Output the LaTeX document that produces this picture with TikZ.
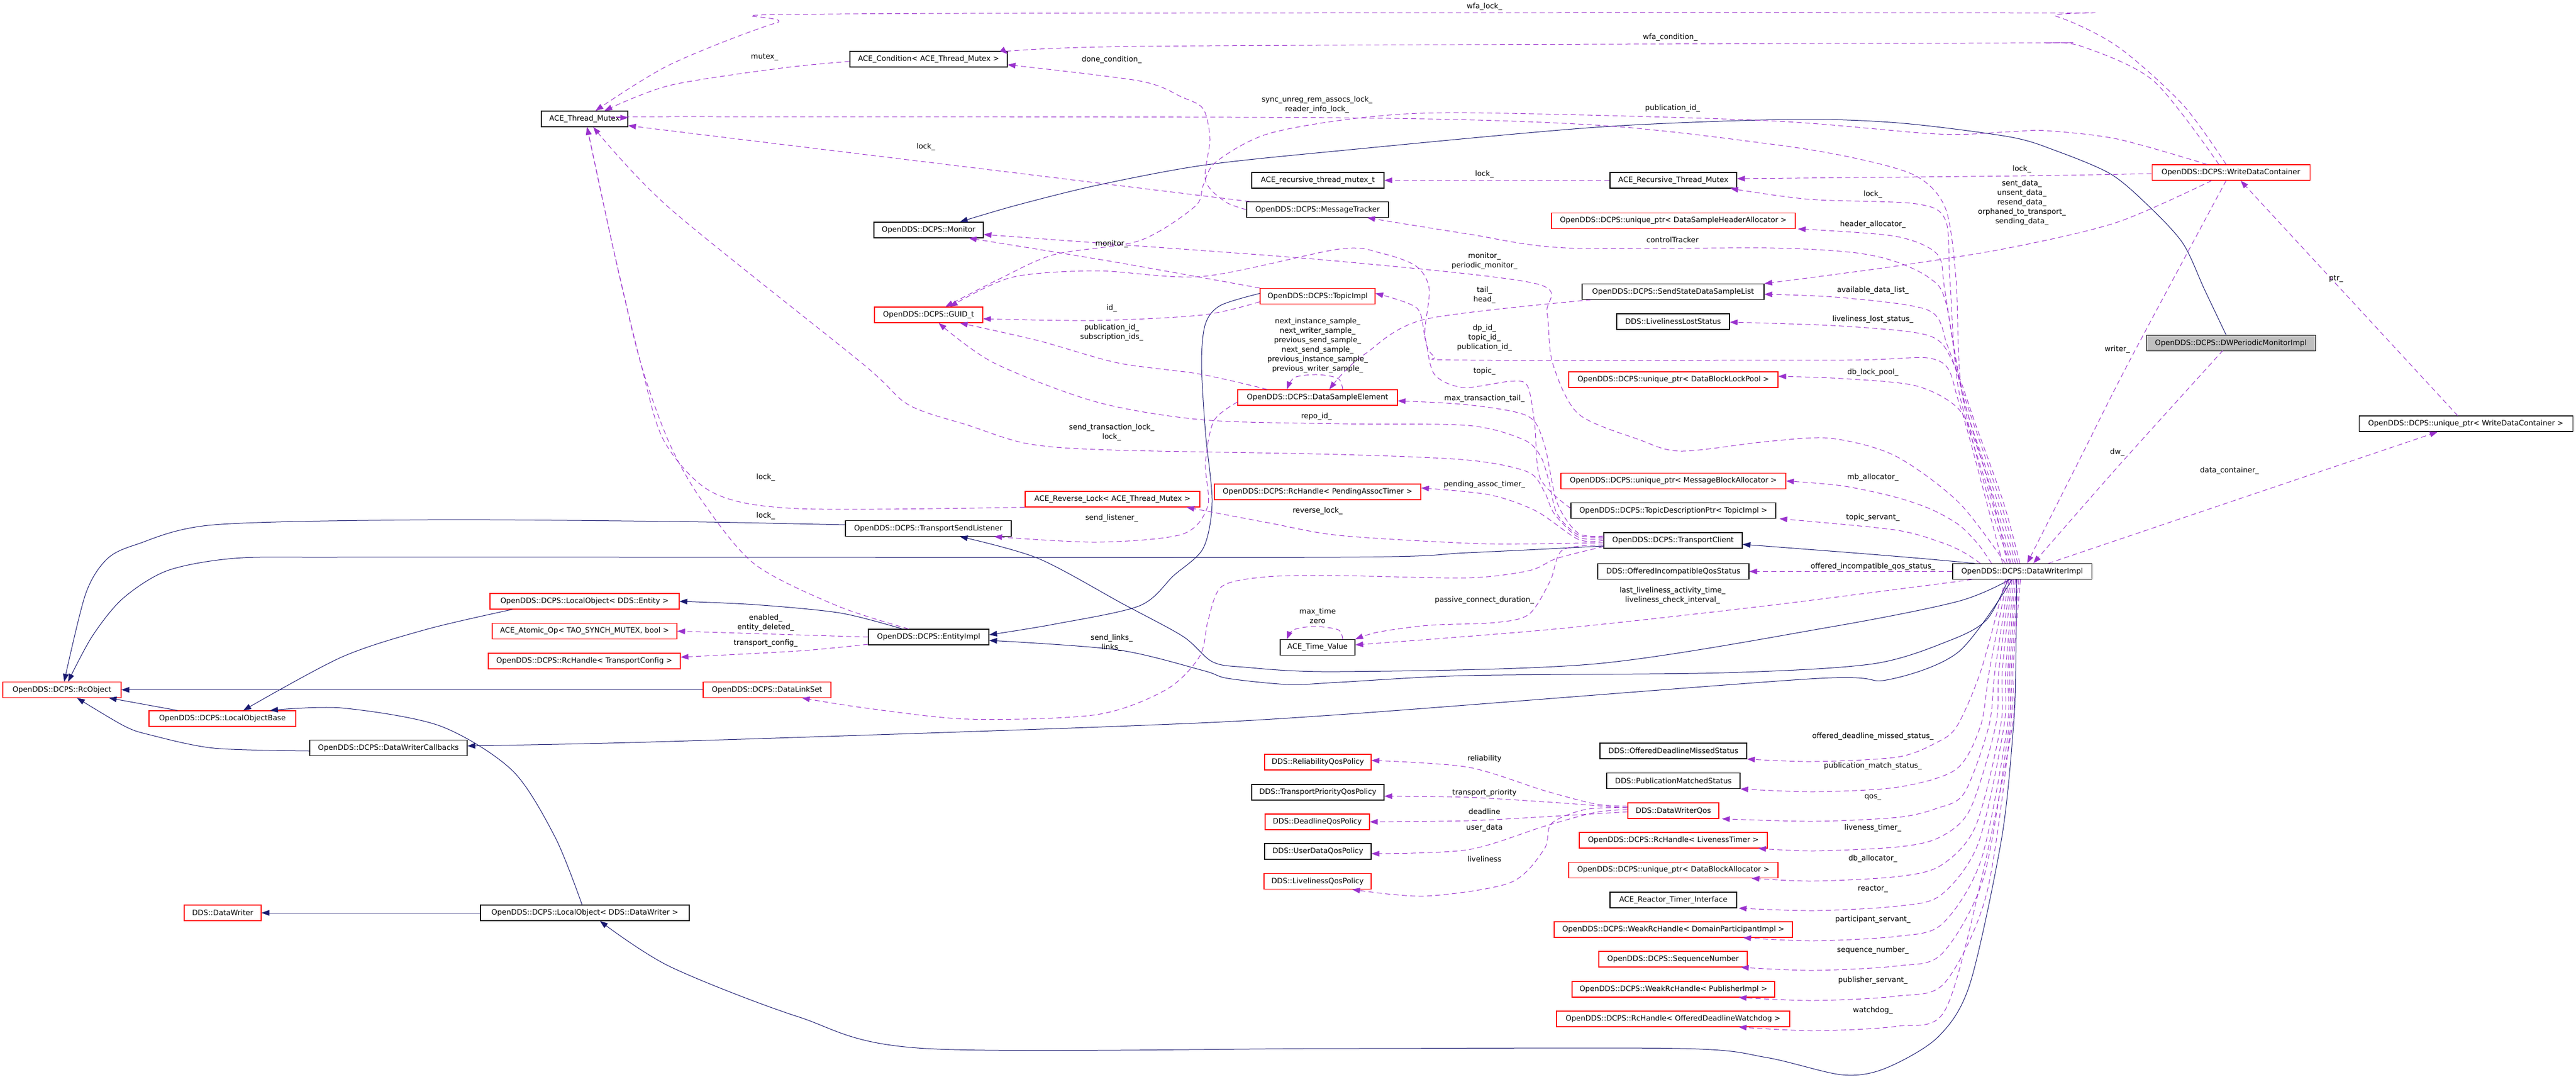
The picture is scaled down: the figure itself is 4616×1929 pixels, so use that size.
\documentclass[tikz,border=0pt]{standalone}
\usepackage{fontspec}
\setmainfont{DejaVu Sans}
\usetikzlibrary{arrows.meta}
\definecolor{edgeuse}{HTML}{9A32CD}
\definecolor{edgeinh}{HTML}{191970}
\definecolor{boxred}{HTML}{FF0000}
\definecolor{boxgray}{HTML}{BFBFBF}
\newcommand\dgfont{\fontsize{13.2}{17}\selectfont}

\begin{document}
\begin{tikzpicture}[x=1pt,y=-1pt,
cls/.style={draw=black,fill=white,line width=1.1pt,minimum height=28pt,inner xsep=2pt,inner ysep=0pt,font=\dgfont},
ucls/.style={cls,draw=boxred},
lbl/.style={font=\dgfont,align=center,inner sep=0pt},
use/.style={edgeuse,line width=1pt,dash pattern=on 9pt off 6pt,-{Triangle[length=14pt,width=10pt]}},
inh/.style={edgeinh,line width=1pt,-{Triangle[length=14pt,width=10pt]}}]
\useasboundingbox (0,0) rectangle (4616,1929);

\node[cls,minimum width=155pt] (mutex) at (1047.5,213) {ACE\_Thread\_Mutex};
\node[cls,minimum width=282pt] (cond) at (1664,106) {ACE\_Condition< ACE\_Thread\_Mutex >};
\node[cls,minimum width=196pt] (monitor) at (1664,412) {OpenDDS::DCPS::Monitor};
\node[ucls,minimum width=194pt] (guid) at (1664,564) {OpenDDS::DCPS::GUID\_t};
\node[cls,minimum width=237pt] (rtmutext) at (2361.5,323) {ACE\_recursive\_thread\_mutex\_t};
\node[cls,minimum width=254pt] (msgtracker) at (2361,375.5) {OpenDDS::DCPS::MessageTracker};
\node[ucls,minimum width=206pt] (topic) at (2361,530.5) {OpenDDS::DCPS::TopicImpl};
\node[cls,minimum width=227pt] (rmutex) at (2998.5,323) {ACE\_Recursive\_Thread\_Mutex};
\node[ucls,minimum width=437pt] (hdralloc) at (2998.5,395.5) {OpenDDS::DCPS::unique\_ptr< DataSampleHeaderAllocator >};
\node[cls,minimum width=326pt] (sslist) at (2998,522.5) {OpenDDS::DCPS::SendStateDataSampleList};
\node[cls,minimum width=202pt] (lls) at (2998,576) {DDS::LivelinessLostStatus};
\node[ucls,minimum width=283pt] (wdc) at (3997.5,309) {OpenDDS::DCPS::WriteDataContainer};
\node[cls,fill=boxgray,minimum width=303pt] (dwpmi) at (3997.5,614.5) {OpenDDS::DCPS::DWPeriodicMonitorImpl};
\node[ucls,minimum width=212pt] (rcobj) at (111,1235.5) {OpenDDS::DCPS::RcObject};
\node[ucls,minimum width=263pt] (lobase) at (398.5,1287) {OpenDDS::DCPS::LocalObjectBase};
\node[ucls,minimum width=339pt] (loentity) at (1047.5,1077) {OpenDDS::DCPS::LocalObject< DDS::Entity >};
\node[ucls,minimum width=331pt] (atomic) at (1047.5,1130.5) {ACE\_Atomic\_Op< TAO\_SYNCH\_MUTEX, bool >};
\node[ucls,minimum width=344pt] (tconfig) at (1047,1184) {OpenDDS::DCPS::RcHandle< TransportConfig >};
\node[cls,minimum width=297pt] (tsl) at (1663.5,946.5) {OpenDDS::DCPS::TransportSendListener};
\node[ucls,minimum width=313pt] (revlock) at (1993.5,894) {ACE\_Reverse\_Lock< ACE\_Thread\_Mutex >};
\node[cls,minimum width=216pt] (entity) at (1664,1141) {OpenDDS::DCPS::EntityImpl};
\node[ucls,minimum width=229pt] (dlset) at (1374.5,1235.5) {OpenDDS::DCPS::DataLinkSet};
\node[ucls,minimum width=286pt] (dse) at (2361,712) {OpenDDS::DCPS::DataSampleElement};
\node[ucls,minimum width=370pt] (pat) at (2361,881) {OpenDDS::DCPS::RcHandle< PendingAssocTimer >};
\node[cls,minimum width=134pt] (timeval) at (2361,1159.5) {ACE\_Time\_Value};
\node[ucls,minimum width=375pt] (lockpool) at (2998.5,680) {OpenDDS::DCPS::unique\_ptr< DataBlockLockPool >};
\node[ucls,minimum width=403pt] (mballoc) at (2998.5,861.5) {OpenDDS::DCPS::unique\_ptr< MessageBlockAllocator >};
\node[cls,minimum width=367pt] (tdptr) at (2998.5,914.5) {OpenDDS::DCPS::TopicDescriptionPtr< TopicImpl >};
\node[cls,minimum width=248pt] (tclient) at (2998,968) {OpenDDS::DCPS::TransportClient};
\node[cls,minimum width=271pt] (oiqs) at (2998.5,1023.5) {DDS::OfferedIncompatibleQosStatus};
\node[cls,minimum width=249pt] (dwi) at (3623.5,1023.5) {OpenDDS::DCPS::DataWriterImpl};
\node[cls,minimum width=383pt] (uwdc) at (4418.5,759) {OpenDDS::DCPS::unique\_ptr< WriteDataContainer >};
\node[cls,minimum width=282pt] (dwcb) at (696,1339.5) {OpenDDS::DCPS::DataWriterCallbacks};
\node[ucls,minimum width=138pt] (ddsdw) at (399,1635) {DDS::DataWriter};
\node[cls,minimum width=374pt] (lodw) at (1048,1635) {OpenDDS::DCPS::LocalObject< DDS::DataWriter >};
\node[ucls,minimum width=191pt] (reliab) at (2361.5,1365) {DDS::ReliabilityQosPolicy};
\node[cls,minimum width=237pt] (tprio) at (2361.5,1419) {DDS::TransportPriorityQosPolicy};
\node[ucls,minimum width=187pt] (deadl) at (2360.5,1472) {DDS::DeadlineQosPolicy};
\node[cls,minimum width=191pt] (udata) at (2361.5,1525) {DDS::UserDataQosPolicy};
\node[ucls,minimum width=192pt] (liveq) at (2361,1578.5) {DDS::LivelinessQosPolicy};
\node[cls,minimum width=263pt] (odms) at (2998.5,1345) {DDS::OfferedDeadlineMissedStatus};
\node[cls,minimum width=239pt] (pms) at (2998.5,1398.5) {DDS::PublicationMatchedStatus};
\node[ucls,minimum width=163pt] (dwqos) at (2998.5,1452) {DDS::DataWriterQos};
\node[ucls,minimum width=337pt] (ltimer) at (2998.5,1505) {OpenDDS::DCPS::RcHandle< LivenessTimer >};
\node[ucls,minimum width=375pt] (dballoc) at (2998.5,1558.5) {OpenDDS::DCPS::unique\_ptr< DataBlockAllocator >};
\node[cls,minimum width=227pt] (reactor) at (2998.5,1612) {ACE\_Reactor\_Timer\_Interface};
\node[ucls,minimum width=427pt] (dpimpl) at (2998.5,1665) {OpenDDS::DCPS::WeakRcHandle< DomainParticipantImpl >};
\node[ucls,minimum width=266pt] (seqnum) at (2998,1718) {OpenDDS::DCPS::SequenceNumber};
\node[ucls,minimum width=363pt] (pubimpl) at (2998.5,1772) {OpenDDS::DCPS::WeakRcHandle< PublisherImpl >};
\node[ucls,minimum width=418pt] (watchdog) at (2998,1825) {OpenDDS::DCPS::RcHandle< OfferedDeadlineWatchdog >};

\draw[inh] plot[smooth] coordinates {([xshift=-8.5pt]dwpmi.north) (3950,518) (3911,435) (3846,365) (3781,311) (3684,270) (3600,245) (3400,220) (3203,214) (2859,228) (2400,270) (2156,296) (1965,332) (1820,368) ([xshift=56pt]monitor.north)};
\draw[inh] plot[smooth] coordinates {([xshift=-85pt]dwi.north) (3440,1000) (3318,990) ([yshift=-7pt]tclient.east)};
\draw[inh] plot[smooth] coordinates {([xshift=-25pt]dwi.south) (3560,1110) (3494,1147) (3356,1189) (3089,1205) (2630,1210) (2400,1222) (2309,1226) (2200,1215) (2156,1201) (2003,1164) ([yshift=-6pt]entity.east)};
\draw[inh] plot[smooth] coordinates {([xshift=-22pt]dwi.south) (3509,1077) (3280,1123) (2859,1189) (2400,1203) (2230,1195) (2172,1185) (2120,1140) (2011,1081) (1860,1000) ([xshift=56.5pt]tsl.south)};
\draw[inh] plot[smooth] coordinates {([xshift=-18pt]dwi.south) (3509,1168) (3380,1218) (3242,1216) (2400,1280) (2026,1300) (1200,1328) ([yshift=3.5pt]dwcb.east)};
\draw[inh] plot[smooth] coordinates {([xshift=-10pt]dwi.south) (3612,1200) (3608,1300) (3587,1500) (3530,1762) (3472,1858) (3377,1914) (3300,1925) (3165,1894) (3012,1878) (2400,1878) (1659,1878) (1430,1821) (1200,1731) ([xshift=27pt]lodw.south)};
\draw[inh] plot[smooth] coordinates {([yshift=-10pt]tclient.west) (2630,990) (2400,998) (1200,998) (600,998) (420,1000) (300,1022) (220,1072) (165,1140) ([xshift=11pt]rcobj.north)};
\draw[inh] plot[smooth] coordinates {([yshift=6.5pt]tsl.west) (1200,934) (765,931) (383,940) (245,975) (191,1002) (153,1065) ([xshift=4pt]rcobj.north)};
\draw[inh] (dlset.west) -- (rcobj.east);
\draw[inh] ([xshift=-80.5pt]lobase.north) -- ([xshift=84pt]rcobj.south);
\draw[inh] plot[smooth] coordinates {([yshift=-5.5pt]dwcb.west) (383,1340) (268,1316) (222,1300) ([xshift=27pt]rcobj.south)};
\draw[inh] plot[smooth] coordinates {([xshift=-129.5pt]loentity.south) (765,1127) (612,1177) ([xshift=37.5pt]lobase.north)};
\draw[inh] plot[smooth] coordinates {([xshift=-5pt]lodw.north) (995,1500) (918,1380) (788,1300) (612,1268) ([xshift=85.5pt]lobase.north)};
\draw[inh] (lodw.west) -- (ddsdw.east);
\draw[inh] plot[smooth] coordinates {([xshift=-47pt]entity.north) (1506,1098) (1353,1083) (loentity.east)};
\draw[inh] plot[smooth] coordinates {([yshift=5pt]topic.west) (2187,547) (2160,580) (2153,650) (2160,774) (2172,899) (2156,982) (2103,1031) (2042,1085) (1889,1118) ([yshift=4pt]entity.east)};

\draw[use] plot[smooth] coordinates {([xshift=-8.5pt]wdc.north) (3911,187) (3794,83) (3684,29) (3600,23) (1506,25) (1391,41) (1200,116) ([xshift=19.5pt]mutex.north)};
\draw[use] plot[smooth] coordinates {([xshift=-21.5pt]wdc.north) (3859,145) (3730,83) (3665,77) (3600,77) (2042,83) ([yshift=9pt]cond.east)};
\draw[use] plot[smooth] coordinates {([yshift=-4pt]cond.west) (1400,122) (1200,153) ([xshift=35.5pt]mutex.north)};
\draw[use] plot[smooth] coordinates {(msgtracker.west) (2195,361) (2160,323) (2168,249) (2156,195) (2118,174) (2042,145) ([yshift=-10pt]cond.east)};
\draw[use] ([xshift=6pt]msgtracker.north west) -- ([yshift=-12pt]mutex.east);
\draw[use] plot[smooth] coordinates {([xshift=-22pt]dwi.north) (3565,900) (3515,700) (3505,500) (3486,373) (3433,315) (3318,282) (3165,257) (2859,224) (2400,211) (1200,209) ([yshift=2pt]mutex.east)};
\draw[use] plot[smooth] coordinates {([yshift=3pt]tclient.west) (2828,962) (2785,920) (2767,880) (2737,845) (2630,824) (2400,814) (1992,806) (1843,795) (1736,762) (1628,725) (1544,650) (1200,373) ([xshift=15.5pt]mutex.south)};
\draw[use] plot[smooth] coordinates {(revlock.south west) (1430,911) (1277,882) (1190,790) (1148,650) (1100,450) ([xshift=4.5pt]mutex.south)};
\draw[use] plot[smooth] coordinates {([xshift=-36pt]entity.north) (1500,1085) (1353,1011) (1260,900) (1200,795) (1148,650) (1100,450) ([xshift=4.5pt]mutex.south)};
\draw[use] plot[smooth] coordinates {([xshift=-42.5pt]wdc.north) (3794,249) (3665,234) (3600,236) (3471,240) (3165,216) (2630,202) (2438,211) (2271,240) (2179,290) (2156,332) (2141,370) (2042,431) (1889,456) (1790,500) ([xshift=30pt]guid.north)};
\draw[use] plot[smooth] coordinates {([xshift=-35pt]dwi.north) (3560,900) (3510,720) (3471,645) (3300,645) (2630,645) (2570,638) (2553,600) (2561,518) (2538,477) (2477,454) (2400,446) (2156,495) (1965,485) (1812,497) ([xshift=38pt]guid.north)};
\draw[use] plot[smooth] coordinates {([yshift=-10pt]topic.west) (2156,564) (1965,574) ([yshift=-7pt]guid.east)};
\draw[use] plot[smooth] coordinates {([xshift=-90pt]dse.north) (2150,670) (2003,650) (1860,610) ([xshift=56pt]guid.south)};
\draw[use] plot[smooth] coordinates {([yshift=6pt]tclient.west) (2828,958) (2790,920) (2775,860) (2760,816) (2729,787) (2630,762) (2400,759) (2156,752) (1965,720) (1781,650) ([xshift=18pt]guid.south)};
\draw[use] plot[smooth] coordinates {([xshift=-147pt]sslist.south) (2553,572) (2446,634) (2405,670) ([xshift=21pt]dse.north)};
\draw[use] plot[smooth] coordinates {([xshift=45pt]dse.north) (2398,678) (2361,671) (2320,676) ([xshift=-55pt]dse.north)};
\draw[use] plot[smooth] coordinates {([yshift=-8pt]dse.west) (2175,754) (2160,830) (2164,907) (2118,957) (1965,971) ([xshift=118pt]tsl.south)};
\draw[use] plot[smooth] coordinates {([yshift=8pt]tclient.west) (2828,955) (2790,900) (2767,795) (2737,745) (2630,725) ([yshift=-6pt]dse.east)};
\draw[use] plot[smooth] coordinates {([yshift=4pt]tdptr.west) (2760,857) (2750,760) (2737,691) (2706,683) (2622,694) (2570,670) (2553,601) (2538,551) ([yshift=5pt]topic.east)};
\draw[use] plot[smooth] coordinates {(tclient.west) (2828,966) (2752,915) (2668,886) ([yshift=7pt]pat.east)};
\draw[use] plot[smooth] coordinates {([yshift=-4pt]tclient.west) (2750,974) (2630,973) (2400,959) (2271,936) ([xshift=132.5pt]revlock.south)};
\draw[use] plot[smooth] coordinates {([yshift=-8pt]tclient.west) (2800,985) (2778,1040) (2740,1100) (2680,1115) (2560,1120) (2470,1132) (timeval.north east)};
\draw[use] plot[smooth] coordinates {([yshift=-11pt]tclient.west) (2790,1000) (2740,1022) (2630,1035) (2400,1031) (2271,1033) (2190,1050) (2165,1110) (2150,1175) (2090,1235) (1965,1280) (1735,1288) (1550,1268) ([xshift=62.5pt]dlset.south)};
\draw[use] (entity.west) -- (atomic.east);
\draw[use] plot[smooth] coordinates {([yshift=-13pt]entity.west) (1430,1166) ([yshift=7pt]tconfig.east)};
\draw[use] (rmutex.west) -- (rtmutext.east);
\draw[use] plot[smooth] coordinates {([yshift=-2pt]wdc.west) (3623,315) ([yshift=3pt]rmutex.east)};
\draw[use] plot[smooth] coordinates {([xshift=-20pt]dwi.north) (3570,900) (3510,700) (3494,500) (3486,394) (3433,365) (3242,357) ([xshift=-12pt]rmutex.south east)};
\draw[use] plot[smooth] coordinates {([xshift=-16pt]dwi.north) (3575,900) (3515,700) (3485,520) (3471,455) (3395,423) ([xshift=4pt]hdralloc.south east)};
\draw[use] plot[smooth] coordinates {([xshift=-12pt]dwi.north) (3580,900) (3520,720) (3486,539) (3456,497) (3395,468) (3318,452) (3165,444) (2805,444) (2630,419) ([xshift=89pt]msgtracker.south)};
\draw[use] plot[smooth] coordinates {([xshift=-8pt]dwi.north) (3585,900) (3530,740) (3490,620) (3456,556) (3300,533) ([yshift=-4.5pt]sslist.east)};
\draw[use] plot[smooth] coordinates {([xshift=-34.5pt]wdc.south) (3794,398) (3600,444) (3395,477) (sslist.north east)};
\draw[use] plot[smooth] coordinates {([xshift=-4pt]dwi.north) (3590,900) (3540,760) (3500,650) (3456,601) (3300,584) ([yshift=-1pt]lls.east)};
\draw[use] plot[smooth] coordinates {([xshift=-27pt]dwi.north) (3580,930) (3548,816) (3510,733) (3433,691) (3300,678) ([yshift=6pt]lockpool.east)};
\draw[use] plot[smooth] coordinates {([xshift=-55pt]dwi.north) (3545,975) (3510,940) (3460,912) (3395,890) (3300,870) (mballoc.east)};
\draw[use] plot[smooth] coordinates {([xshift=-75pt]dwi.north) (3520,990) (3480,972) (3395,949) ([xshift=6pt]tdptr.south east)};
\draw[use] plot[smooth] coordinates {([xshift=-30pt]dwi.north) (3509,899) (3395,816) (3280,785) (3165,791) (3012,808) (2936,787) (2828,741) (2782,650) (2772,560) (2752,508) (2400,468) (1992,437) ([yshift=-8pt]monitor.east)};
\draw[use] plot[smooth] coordinates {(topic.north west) (1990,468) ([xshift=72pt]monitor.south)};
\draw[use] (dwi.west) -- (oiqs.east);
\draw[use] plot[smooth] coordinates {([xshift=-90pt]dwi.south) (3165,1085) (2783,1127) ([yshift=4.5pt]timeval.east)};
\draw[use] plot[smooth] coordinates {([xshift=45pt]timeval.north) (2398,1128) (2355,1122) (2318,1128) ([xshift=-55pt]timeval.north)};
\draw[use] ([xshift=47pt]dwi.north) -- ([xshift=-50.5pt]uwdc.south);
\draw[use] ([xshift=-14.5pt]uwdc.north) -- ([xshift=17.5pt]wdc.south);
\draw[use] plot[smooth] coordinates {([xshift=-8.5pt]wdc.south) (3814,650) (3730,816) ([xshift=9pt]dwi.north)};
\draw[use] plot[smooth] coordinates {([xshift=-15.5pt]dwpmi.south) (3963,650) (3794,837) ([xshift=20pt]dwi.north)};

\draw[use] plot[smooth] coordinates {([yshift=8pt]dwqos.west) (2859,1440) (2767,1416) (2630,1374) ([yshift=3pt]reliab.east)};
\draw[use] plot[smooth] coordinates {([yshift=5pt]dwqos.west) (2780,1437) (2630,1428) ([yshift=-7pt]tprio.east)};
\draw[use] plot[smooth] coordinates {([yshift=-2pt]dwqos.west) (2783,1462) (2630,1470) (deadl.east)};
\draw[use] plot[smooth] coordinates {([yshift=2pt]dwqos.west) (2859,1455) (2767,1480) (2630,1522) ([yshift=-4pt]udata.east)};
\draw[use] plot[smooth] coordinates {([yshift=6pt]dwqos.west) (2840,1450) (2780,1475) (2767,1521) (2706,1581) (2553,1605) ([xshift=62pt]liveq.south)};

\draw[use] plot[smooth] coordinates {([xshift=-30pt]dwi.south) (3550,1200) (3507,1300) (3470,1330) (3400,1356) (3250,1364) (odms.south east)};
\draw[use] plot[smooth] coordinates {([xshift=-27pt]dwi.south) (3565,1200) (3549,1300) (3505,1378) (3400,1410) (3250,1418) (pms.south east)};
\draw[use] plot[smooth] coordinates {([xshift=-24pt]dwi.south) (3575,1200) (3564,1300) (3520,1420) (3470,1448) (3400,1464) (3250,1471) ([xshift=5pt]dwqos.south east)};
\draw[use] plot[smooth] coordinates {([xshift=-21pt]dwi.south) (3582,1200) (3576,1300) (3530,1450) (3475,1500) (3400,1517) (3250,1524) ([xshift=-17pt]ltimer.south east)};
\draw[use] plot[smooth] coordinates {([xshift=-18pt]dwi.south) (3588,1200) (3585,1300) (3540,1480) (3478,1550) (3400,1570) (3250,1578) ([xshift=-48pt]dballoc.south east)};
\draw[use] plot[smooth] coordinates {([xshift=-15pt]dwi.south) (3594,1200) (3591,1300) (3545,1510) (3478,1603) (3400,1623) (3250,1631) ([xshift=3pt]reactor.south east)};
\draw[use] plot[smooth] coordinates {([xshift=-12pt]dwi.south) (3598,1200) (3597,1300) (3550,1540) (3480,1655) (3400,1677) (3250,1685) ([xshift=-89pt]dpimpl.south east)};
\draw[use] plot[smooth] coordinates {([xshift=-9pt]dwi.south) (3601,1200) (3600,1300) (3555,1570) (3480,1708) (3400,1730) (3250,1738) ([xshift=-12pt]seqnum.south east)};
\draw[use] plot[smooth] coordinates {([xshift=-6pt]dwi.south) (3604,1200) (3603,1300) (3560,1600) (3485,1760) (3400,1784) (3250,1792) ([xshift=-65pt]pubimpl.south east)};
\draw[use] plot[smooth] coordinates {([xshift=-3pt]dwi.south) (3607,1200) (3606,1300) (3549,1581) (3485,1810) (3400,1838) (3250,1846) ([xshift=-92pt]watchdog.south east)};

\node[lbl] (lwfalock) at (2660,12) {wfa\_lock\_};
\node[lbl] (lwfacond) at (2993,67) {wfa\_condition\_};
\node[lbl] (lmutex) at (1370,102) {mutex\_};
\node[lbl] (ldonecond) at (1992,107) {done\_condition\_};
\node[lbl] (lsyncunreg) at (2360,188) {sync\_unreg\_rem\_assocs\_lock\_\\reader\_info\_lock\_};
\node[lbl] (lpubidwdc) at (2997,194) {publication\_id\_};
\node[lbl] (llocktracker) at (1659,263) {lock\_};
\node[lbl] (llockrmutex) at (2660,312) {lock\_};
\node[lbl] (llockwdc) at (3623,303) {lock\_};
\node[lbl] (llockdwi) at (3356,348) {lock\_};
\node[lbl] (lsentdata) at (3623,363) {sent\_data\_\\unsent\_data\_\\resend\_data\_\\orphaned\_to\_transport\_\\sending\_data\_};
\node[lbl] (lhdralloc) at (3356,402) {header\_allocator\_};
\node[lbl] (lctrltracker) at (2997,430) {controlTracker};
\node[lbl] (lmonitortopic) at (1992,437) {monitor\_};
\node[lbl] (lmonitordwi) at (2660,468) {monitor\_\\periodic\_monitor\_};
\node[lbl] (lptr) at (4186,499) {ptr\_};
\node[lbl] (ltailhead) at (2660,529) {tail\_\\head\_};
\node[lbl] (lavail) at (3356,520) {available\_data\_list\_};
\node[lbl] (lid) at (1992,552) {id\_};
\node[lbl] (llls) at (3356,572) {liveliness\_lost\_status\_};
\node[lbl] (lpubiddse) at (1992,596) {publication\_id\_\\subscription\_ids\_};
\node[lbl] (ldpid) at (2660,605) {dp\_id\_\\topic\_id\_\\publication\_id\_};
\node[lbl] (lnextsample) at (2361,619) {next\_instance\_sample\_\\next\_writer\_sample\_\\previous\_send\_sample\_\\next\_send\_sample\_\\previous\_instance\_sample\_\\previous\_writer\_sample\_};
\node[lbl] (lwriter) at (3794,626) {writer\_};
\node[lbl] (ltopic) at (2660,665) {topic\_};
\node[lbl] (llockpool) at (3356,667) {db\_lock\_pool\_};
\node[lbl] (lmaxtail) at (2660,714) {max\_transaction\_tail\_};
\node[lbl] (lrepoid) at (2359,746) {repo\_id\_};
\node[lbl] (lsendtx) at (1992,775) {send\_transaction\_lock\_\\lock\_};
\node[lbl] (ldw) at (3794,810) {dw\_};
\node[lbl] (ldatacont) at (3995,843) {data\_container\_};
\node[lbl] (llockrev) at (1372,855) {lock\_};
\node[lbl] (lmballoc) at (3356,855) {mb\_allocator\_};
\node[lbl] (lpat) at (2660,868) {pending\_assoc\_timer\_};
\node[lbl] (lrevlock) at (2361,915) {reverse\_lock\_};
\node[lbl] (llockentity) at (1372,924) {lock\_};
\node[lbl] (ltopicservant) at (3356,927) {topic\_servant\_};
\node[lbl] (lsendlistener) at (1992,928) {send\_listener\_};
\node[lbl] (loiqs) at (3356,1015) {offered\_incompatible\_qos\_status\_};
\node[lbl] (llastlive) at (2997,1067) {last\_liveliness\_activity\_time\_\\liveliness\_check\_interval\_};
\node[lbl] (lpassive) at (2660,1075) {passive\_connect\_duration\_};
\node[lbl] (lmaxtime) at (2361,1103) {max\_time\\zero};
\node[lbl] (lenabled) at (1372,1116) {enabled\_\\entity\_deleted\_};
\node[lbl] (ltconfig) at (1372,1152) {transport\_config\_};
\node[lbl] (lsendlinks) at (1992,1152) {send\_links\_\\links\_};
\node[lbl] (lodms) at (3356,1319) {offered\_deadline\_missed\_status\_};
\node[lbl] (lreliab) at (2660,1359) {reliability};
\node[lbl] (lpms) at (3356,1372) {publication\_match\_status\_};
\node[lbl] (ltprio) at (2660,1420) {transport\_priority};
\node[lbl] (lqos) at (3356,1428) {qos\_};
\node[lbl] (ldeadl) at (2660,1454) {deadline};
\node[lbl] (lltimer) at (3356,1483) {liveness\_timer\_};
\node[lbl] (ludata) at (2660,1483) {user\_data};
\node[lbl] (ldballoc) at (3356,1538) {db\_allocator\_};
\node[lbl] (lliveq) at (2660,1539) {liveliness};
\node[lbl] (lreactor) at (3356,1592) {reactor\_};
\node[lbl] (ldpimpl) at (3356,1647) {participant\_servant\_};
\node[lbl] (lseqnum) at (3356,1702) {sequence\_number\_};
\node[lbl] (lpubimpl) at (3356,1756) {publisher\_servant\_};
\node[lbl] (lwatchdog) at (3356,1810) {watchdog\_};
\end{tikzpicture}
\end{document}
